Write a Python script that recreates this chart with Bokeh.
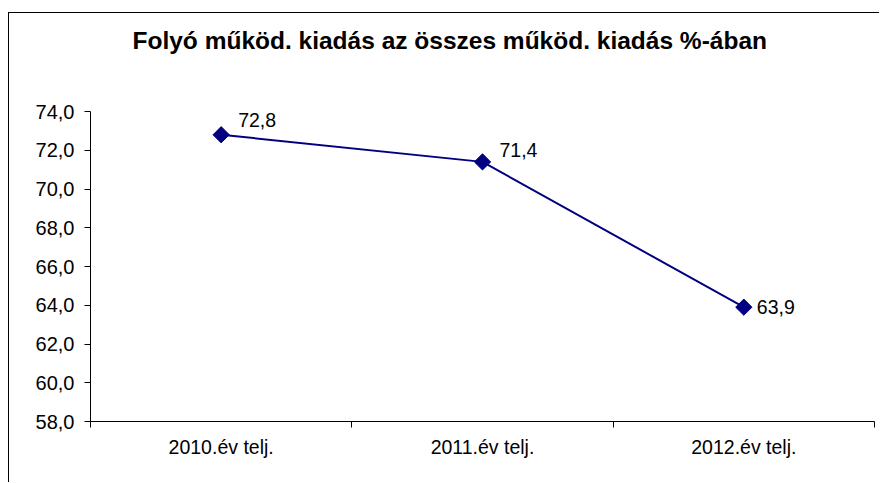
import math
from bokeh.plotting import figure
from bokeh.models import Range1d, FixedTicker, ColumnDataSource, LabelSet, Title
from bokeh.core.properties import value
from bokeh.embed import file_html
from bokeh.resources import INLINE

# ---- data ----
categories = ["2010.év telj.", "2011.év telj.", "2012.év telj."]
values = [72.8, 71.4, 63.9]
y_ticks = [58, 60, 62, 64, 66, 68, 70, 72, 74]
title_text = "Folyó működ. kiadás az összes működ. kiadás %-ában"

def hu(v):
    return f"{v:.1f}".replace(".", ",")

# label nudges (pixels)
label_dx = [17, 17, 13]
label_dy = [15, 12, 0]

xs = [i + 0.5 for i in range(len(categories))]
src = ColumnDataSource(dict(x=xs, y=values, lbl=[hu(v) for v in values],
                            dx=label_dx, dy=label_dy))

FONT = "Liberation Sans"
NAVY = "#000080"

p = figure(width=871, height=470, output_backend="svg", toolbar_location=None,
           x_range=Range1d(0, len(categories)), y_range=Range1d(y_ticks[0], y_ticks[-1]),
           min_border_left=81, min_border_right=6, min_border_top=0, min_border_bottom=62,
           background_fill_color="white", border_fill_color="white")
p.margin = (12, 0, 0, 8)
p.styles = {"border-left": "1px solid black", "border-top": "1px solid black"}
p.outline_line_color = None
p.xgrid.grid_line_color = None
p.ygrid.grid_line_color = None

p.title.text = title_text
p.title.text_font = FONT
p.title.text_font_size = "24.5px"
p.title.text_font_style = "bold"
p.title.align = "left"
p.title.vertical_align = "top"
p.title.offset = 42
p.title.standoff = 26
p.title.text_color = "black"

# blank spacer between the title and the plot area
spacer = Title(text=" ", text_font_size="1px", standoff=40, text_color="white")
p.add_layout(spacer, "above")

# y axis
ya = p.yaxis[0]
ya.ticker = FixedTicker(ticks=y_ticks)
ya.major_label_overrides = {t: hu(t) for t in y_ticks}
ya.major_tick_out = 6
ya.major_tick_in = 0
ya.minor_tick_line_color = None
ya.axis_line_color = "black"
ya.major_tick_line_color = "black"
ya.major_label_text_font = FONT
ya.major_label_text_font_size = "20px"
ya.major_label_text_color = "black"
ya.major_label_standoff = 10

# x axis: labels at category centres, ticks at boundaries
xa = p.xaxis[0]
xa.ticker = FixedTicker(ticks=xs, minor_ticks=list(range(len(categories) + 1)))
xa.major_label_overrides = {x: c for x, c in zip(xs, categories)}
xa.major_tick_line_color = None
xa.minor_tick_out = 6
xa.minor_tick_in = 0
xa.minor_tick_line_color = "black"
xa.axis_line_color = "black"
xa.major_label_text_font = FONT
xa.major_label_text_font_size = "19.5px"
xa.major_label_text_color = "black"
xa.major_label_standoff = 8

p.line("x", "y", source=src, line_color=NAVY, line_width=2)
p.scatter("x", "y", source=src, marker="square", size=11.5, angle=math.pi / 4,
          fill_color=NAVY, line_color=NAVY)

labels = LabelSet(x="x", y="y", text="lbl", source=src, x_offset="dx", y_offset="dy",
                  text_font=value(FONT), text_font_size=value("19.5px"), text_color="black",
                  text_baseline="middle", text_align="left")
p.add_layout(labels)

open("out.html", "w").write(file_html(p, INLINE))
